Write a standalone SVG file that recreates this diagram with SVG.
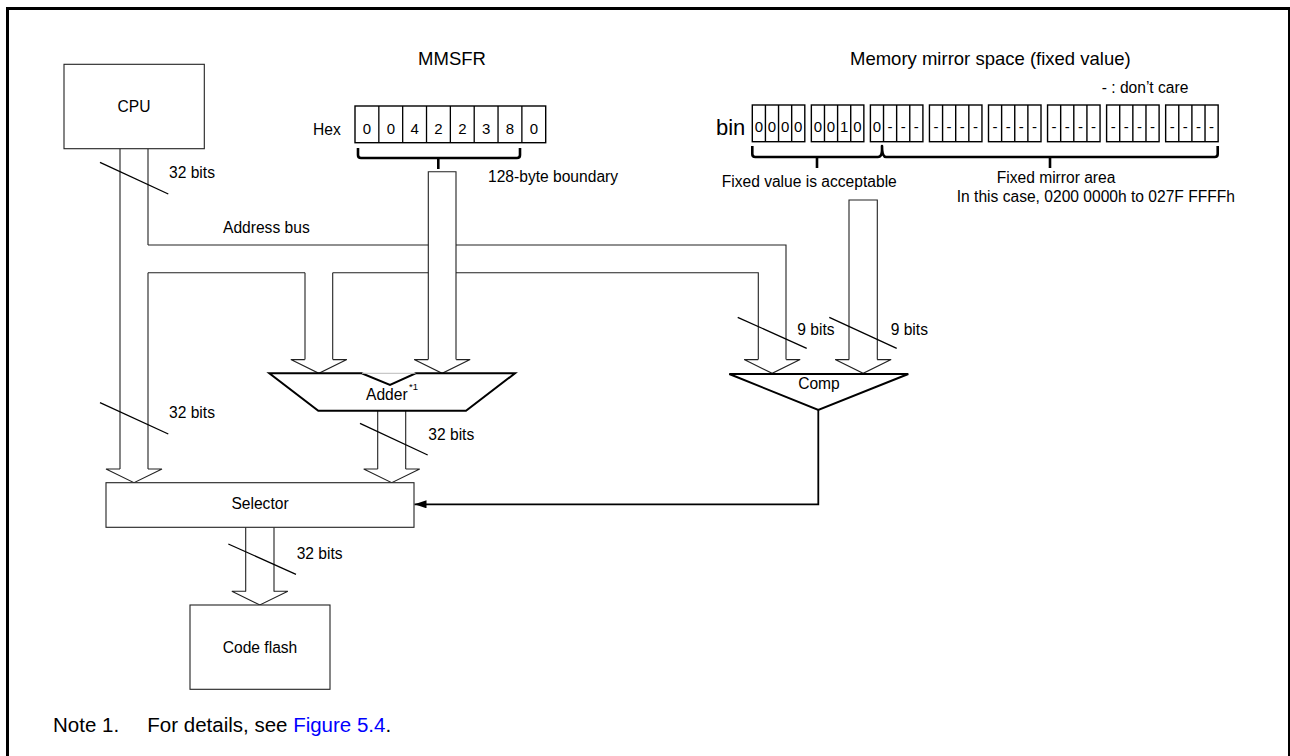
<svg xmlns="http://www.w3.org/2000/svg" xmlns:xlink="http://www.w3.org/1999/xlink" width="1290" height="756" viewBox="0 0 1290 756">
<style>
text{font-family:"Liberation Sans",Arial,sans-serif;fill:#000}
.lbl{font-size:15.6px}
.ttl{font-size:18.5px}
.mid{text-anchor:middle}
.box{fill:#fff;stroke:#222;stroke-width:1.1}
.ln{fill:none;stroke:#222;stroke-width:1.1}
.thick{fill:#fff;stroke:#000;stroke-width:2}
.brace{fill:none;stroke:#000;stroke-width:2.6;stroke-linejoin:round}
.cell{fill:#fff;stroke:#000;stroke-width:1.4}
.dig{font-size:15px;text-anchor:middle}
.slash{stroke:#000;stroke-width:1.3}
</style>
<defs>
<path id="ah" d="M-14,-13.7 H-28 L0,0 L28,-13.7 H14" fill="none" stroke="#222" stroke-width="1.1"/>
<g id="nib">
<rect x="0" y="0" width="52.5" height="36.7" class="cell"/>
<path d="M13.125,0 V36.7 M26.25,0 V36.7 M39.375,0 V36.7" stroke="#000" stroke-width="1.4"/>
</g>
<marker id="tri" markerUnits="userSpaceOnUse" markerWidth="14" markerHeight="10" refX="12" refY="4" orient="auto">
<path d="M0,0 L12,4 L0,8 Z" fill="#000"/>
</marker>
</defs>
<rect x="0" y="0" width="1290" height="756" fill="#fff"/>
<rect x="7.5" y="8.5" width="1282" height="800" fill="none" stroke="#000" stroke-width="3"/>

<g id="connectors">
<!-- CPU column -->
<path class="ln" d="M120,148.7 V469 M148,148.7 V245 M148,272.7 V469"/>
<use xlink:href="#ah" x="134" y="482.7"/>
<!-- address bus -->
<path class="ln" d="M148,245 H428.3 M456,245 H786 V359.6 M148,272.7 H305 M332.7,272.7 H428.3 M456,272.7 H758.3 V359.6"/>
<!-- left branch to adder -->
<path class="ln" d="M305,272.7 V359.6 M332.7,272.7 V359.6"/>
<use xlink:href="#ah" x="318.85" y="373.3"/>
<!-- MMSFR column -->
<path class="ln" d="M428.3,359.6 V171.7 H456 V359.6"/>
<use xlink:href="#ah" x="442.15" y="373.3"/>
<!-- right branch to comp -->
<use xlink:href="#ah" x="772.15" y="373.3"/>
<!-- mirror column -->
<path class="ln" d="M849,359.6 V200 H877.3 V359.6"/>
<use xlink:href="#ah" x="863.15" y="373.3"/>
<!-- adder output -->
<path class="ln" d="M377.7,410.7 V469 M405.7,410.7 V469"/>
<use xlink:href="#ah" x="391.7" y="482.7"/>
<!-- selector output -->
<path class="ln" d="M245.7,527.3 V591.5 M274,527.3 V591.5"/>
<use xlink:href="#ah" x="259.85" y="605"/>
<!-- comp to selector -->
<path d="M818.3,410 V504.3 H414.5" fill="none" stroke="#000" stroke-width="1.8" marker-end="url(#tri)"/>
<!-- bit-width slashes -->
<line class="slash" x1="100" y1="162.3" x2="168.3" y2="194"/>
<text class="lbl" x="169" y="178.3">32 bits</text>
<line class="slash" x1="100" y1="402.7" x2="168.3" y2="434"/>
<text class="lbl" x="169" y="418.3">32 bits</text>
<line class="slash" x1="360" y1="423.3" x2="427.7" y2="455"/>
<text class="lbl" x="428.3" y="440">32 bits</text>
<line class="slash" x1="228.3" y1="544" x2="296" y2="574.3"/>
<text class="lbl" x="296.7" y="559">32 bits</text>
<line class="slash" x1="737.7" y1="317.3" x2="806.7" y2="348.3"/>
<text class="lbl" x="797.3" y="335">9 bits</text>
<line class="slash" x1="829.3" y1="317.3" x2="896.7" y2="348.3"/>
<text class="lbl" x="890.7" y="335">9 bits</text>
<text class="lbl" x="223" y="233.3">Address bus</text>
</g>

<g id="cpu">
<rect class="box" x="64" y="64.3" width="140.3" height="84.4"/>
<text class="lbl mid" x="134" y="111.7">CPU</text>
</g>

<g id="mmsfr">
<text class="ttl mid" x="452" y="65">MMSFR</text>
<text class="lbl" x="313" y="135">Hex</text>
<rect class="cell" x="355" y="106" width="190.7" height="36.7" stroke-width="1.3"/>
<path d="M378.84,106 V142.7 M402.68,106 V142.7 M426.52,106 V142.7 M450.36,106 V142.7 M474.2,106 V142.7 M498.04,106 V142.7 M521.88,106 V142.7" stroke="#000" stroke-width="1.3"/>
<text class="dig" x="366.9" y="134.3">0</text>
<text class="dig" x="390.8" y="134.3">0</text>
<text class="dig" x="414.6" y="134.3">4</text>
<text class="dig" x="438.4" y="134.3">2</text>
<text class="dig" x="462.3" y="134.3">2</text>
<text class="dig" x="486.1" y="134.3">3</text>
<text class="dig" x="510" y="134.3">8</text>
<text class="dig" x="533.8" y="134.3">0</text>
<path class="brace" d="M358,148 V155 Q358,158 361,158 H517 Q520,158 520,155 V148 M438.3,158 V169"/>
<text class="lbl" x="488" y="182.3">128-byte boundary</text>
</g>

<g id="mirror">
<text class="ttl" x="850" y="65">Memory mirror space (fixed value)</text>
<text class="lbl" x="1101.7" y="92.7">- : don’t care</text>
<text x="716" y="135" font-size="22">bin</text>
<use xlink:href="#nib" x="752.3" y="105"/>
<use xlink:href="#nib" x="811.35" y="105"/>
<use xlink:href="#nib" x="870.4" y="105"/>
<use xlink:href="#nib" x="929.45" y="105"/>
<use xlink:href="#nib" x="988.5" y="105"/>
<use xlink:href="#nib" x="1047.55" y="105"/>
<use xlink:href="#nib" x="1106.6" y="105"/>
<use xlink:href="#nib" x="1165.65" y="105"/>
<text class="dig" x="758.9" y="131.7">0</text>
<text class="dig" x="772.0" y="131.7">0</text>
<text class="dig" x="785.1" y="131.7">0</text>
<text class="dig" x="798.2" y="131.7">0</text>
<text class="dig" x="817.9" y="131.7">0</text>
<text class="dig" x="831.0" y="131.7">0</text>
<text class="dig" x="844.2" y="131.7">1</text>
<text class="dig" x="857.3" y="131.7">0</text>
<text class="dig" x="877.0" y="131.7">0</text>
<text class="dig" x="890.1" y="131.7">-</text>
<text class="dig" x="903.2" y="131.7">-</text>
<text class="dig" x="916.3" y="131.7">-</text>
<text class="dig" x="936.0" y="131.7">-</text>
<text class="dig" x="949.1" y="131.7">-</text>
<text class="dig" x="962.3" y="131.7">-</text>
<text class="dig" x="975.4" y="131.7">-</text>
<text class="dig" x="995.1" y="131.7">-</text>
<text class="dig" x="1008.2" y="131.7">-</text>
<text class="dig" x="1021.3" y="131.7">-</text>
<text class="dig" x="1034.4" y="131.7">-</text>
<text class="dig" x="1054.1" y="131.7">-</text>
<text class="dig" x="1067.2" y="131.7">-</text>
<text class="dig" x="1080.4" y="131.7">-</text>
<text class="dig" x="1093.5" y="131.7">-</text>
<text class="dig" x="1113.2" y="131.7">-</text>
<text class="dig" x="1126.3" y="131.7">-</text>
<text class="dig" x="1139.4" y="131.7">-</text>
<text class="dig" x="1152.5" y="131.7">-</text>
<text class="dig" x="1172.2" y="131.7">-</text>
<text class="dig" x="1185.3" y="131.7">-</text>
<text class="dig" x="1198.5" y="131.7">-</text>
<text class="dig" x="1211.6" y="131.7">-</text>
<path class="brace" d="M752.3,146 V154 Q752.3,157 755.3,157 H878 Q882,157 882,150 V146 Q882,157 886,157 H1214.7 Q1217.7,157 1217.7,154 V146 M817,157 V168 M1050,157 V168"/>
<text class="lbl" x="721.7" y="186.7">Fixed value is acceptable</text>
<text class="lbl" x="996.7" y="183.3">Fixed mirror area</text>
<text class="lbl" x="1235" y="201.7" text-anchor="end">In this case, 0200 0000h to 027F FFFFh</text>
</g>

<g id="adder">
<polygon class="thick" points="269.3,373.3 361.7,373.3 390,385 415.7,373.3 515,373.3 466,410.7 318.3,410.7"/>
<line x1="362" y1="373.3" x2="415.5" y2="373.3" stroke="#bbb" stroke-width="1"/>
<text class="lbl" x="366" y="400">Adder</text>
<text x="409" y="389.5" font-size="9.5">*1</text>
</g>

<g id="comp">
<polygon class="thick" points="729.3,374 908.3,374 818.3,410"/>
<text class="lbl mid" x="819" y="389.3">Comp</text>
</g>

<g id="selector">
<rect class="box" x="106" y="482.7" width="308" height="44.6"/>
<text class="lbl mid" x="260" y="509.3">Selector</text>
</g>

<g id="codeflash">
<rect class="box" x="190" y="605" width="140" height="84.3"/>
<text class="lbl mid" x="260" y="652.7">Code flash</text>
</g>

<g id="note">
<text x="53" y="731.7" font-size="20.5">Note 1.</text>
<text x="147.3" y="731.7" font-size="20.5">For details, see <tspan fill="#0000ff">Figure 5.4</tspan>.</text>
</g>
</svg>
